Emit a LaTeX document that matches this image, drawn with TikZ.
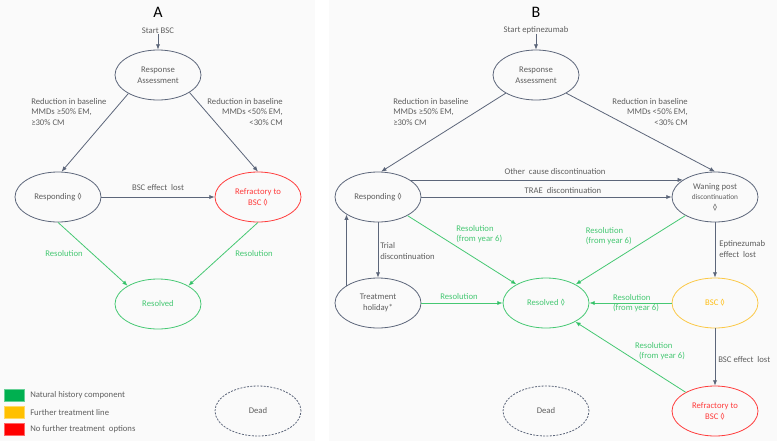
\documentclass[tikz,border=0pt]{standalone}
\usepackage{fontspec}
\setmainfont{Carlito}
\usepackage{tikz}
\usetikzlibrary{arrows.meta,positioning,shapes.geometric}
\definecolor{pizarra}{RGB}{92,102,122}
\definecolor{textogris}{RGB}{95,95,95}
\definecolor{verdeest}{RGB}{70,200,115}
\definecolor{rojoest}{RGB}{255,60,60}
\definecolor{naranjaest}{RGB}{250,200,70}
\definecolor{naranjatxt}{RGB}{255,190,20}
\definecolor{verdeley}{RGB}{0,176,80}
\definecolor{naranjaley}{RGB}{255,192,0}
\definecolor{rojoley}{RGB}{255,0,0}
\definecolor{fondo}{RGB}{250,250,250}

\begin{document}
\begin{tikzpicture}[
  x=0.75pt,y=-0.75pt,
  estado/.style={ellipse,draw=pizarra,line width=0.6pt,minimum width=64.5pt,
              minimum height=37.5pt,inner sep=0pt,align=center,
              font=\fontsize{6.5}{7.9}\selectfont,text=textogris},
  resuelto/.style={estado,draw=verdeest,text=verdeest},
  refract/.style={estado,draw=rojoest,text=rojoest},
  mejor/.style={estado,draw=naranjaest,text=naranjatxt},
  muerto/.style={estado,dash pattern=on 1.5pt off 1pt},
  lbl/.style={font=\fontsize{6.5}{7.9}\selectfont,text=textogris,inner sep=0pt,align=left},
  lblv/.style={lbl,text=verdeest},
  titulo/.style={font=\fontsize{12}{14}\selectfont,inner sep=0pt},
  ley/.style={minimum width=15pt,minimum height=9pt,inner sep=0pt},
  ar/.style={-{Latex[length=4pt,width=3.2pt]},draw=pizarra,line width=0.6pt},
  arv/.style={ar,draw=verdeest,-{Latex[length=4pt,width=3.2pt,fill=verdeley]}}
]
\useasboundingbox (0,0) rectangle (777,443);
\fill[fondo] (0,0) rectangle (315,441);
\fill[fondo] (329,0) rectangle (777,441);

% panel A
\node[titulo] (tA) at (158,12) {A};
\node[lbl] (iniA) at (158,31) {Start BSC};
\node[estado] (evalA) at (158,75) {Response\\Assessment};
\node[estado] (respA) at (58,197) {Responding ◊};
\node[refract] (refrA) at (258,197) {Refractory to\\BSC ◊};
\node[resuelto] (resA) at (158,304) {Resolved};
\node[muerto] (deadA) at (258,411) {Dead};

\node[lbl,anchor=north west] (redA1) at (31,98) {Reduction in baseline\\MMDs ≥50\% EM,\\≥30\% CM};
\node[lbl,anchor=north east,align=right] (redA2) at (283,98) {Reduction in baseline\\MMDs <50\% EM,\\<30\% CM};
\node[lbl] (lostA) at (158,188) {BSC effect\ \ lost};
\node[lblv] (solA1) at (64,254) {Resolution};
\node[lblv] (solA2) at (254,254) {Resolution};

\draw[ar] (iniA) -- (evalA);
\draw[ar] (evalA.212) -- (respA.82);
\draw[ar] (evalA.-29) -- (refrA.north);
\draw[ar] (respA) -- (refrA);
\draw[arv] (respA.south) -- (resA.149);
\draw[arv] (refrA.south) -- (resA.31);

% legend
\node[ley,fill=verdeley,draw=verdeley!60] (kv) at (14,395) {};
\node[ley,fill=naranjaley,draw=naranjaley!60,below=3.5pt of kv] (kn) {};
\node[ley,fill=rojoley,draw=rojoley!60,below=3.5pt of kn] (kr) {};
\node[lbl,anchor=west] (tkv) at (30,395) {Natural history component};
\node[lbl,anchor=west] (tkn) at (kn.east -| tkv.west) {Further treatment line};
\node[lbl,anchor=west] (tkr) at (kr.east -| tkv.west) {No further treatment\ \ options};

% panel B
\node[titulo] (tB) at (536,12) {B};
\node[lbl] (iniB) at (536,30) {Start eptinezumab};
\node[estado] (evalB) at (536,75) {Response\\Assessment};
\node[estado] (respB) at (378,197) {Responding ◊};
\node[estado] (wan) at (715,197) {Waning post\\{\fontsize{5.5}{7.5}\selectfont discontinuation}\\◊};
\node[estado] (hol) at (378,303) {Treatment\\holiday*};
\node[resuelto] (resB) at (546,303) {Resolved ◊};
\node[mejor] (bsc) at (715,303) {BSC ◊};
\node[refract] (refrB) at (715,411) {Refractory to\\BSC ◊};
\node[muerto] (deadB) at (546,411) {Dead};

\node[lbl,anchor=north west] (redB1) at (393,98) {Reduction in baseline\\MMDs ≥50\% EM,\\≥30\% CM};
\node[lbl,anchor=north east,align=right] (redB2) at (688,98) {Reduction in baseline\\MMDs <50\% EM,\\<30\% CM};
\node[lbl] (otra) at (555,172) {Other\ \ cause discontinuation};
\node[lbl] (trae) at (563,191) {TRAE\ \ discontinuation};
\node[lbl,anchor=west] (trial) at (380,251) {Trial\\discontinuation};
\node[lbl,anchor=west] (eptl) at (719,249) {Eptinezumab\\effect\ \ lost};
\node[lbl,anchor=west] (bscl) at (718,360) {BSC effect\ \ lost};
\node[lblv,anchor=west] (solB1) at (456,234) {Resolution\\(from year 6)};
\node[lblv,anchor=east] (solB2) at (632,236) {Resolution\\(from year 6)};
\node[lblv] (solB3) at (459,297) {Resolution};
\node[lblv] (solB4) at (636,303) {Resolution\\(from year 6)};
\node[lblv] (solB5) at (660,351) {Resolution\\\ \ (from year 6)};

\draw[ar] (iniB) -- (evalB);
\draw[ar] (evalB.211) -- (respB.83);
\draw[ar] (evalB.-31) -- (wan.north);
\draw[ar] (respB.28) -- (wan.152);
\draw[ar] (respB) -- (wan);
\draw[ar] (respB) -- (hol);
\draw[ar] (hol.151) -- (respB.209);
\draw[ar] (wan) -- (bsc);
\draw[ar] (bsc) -- (refrB);
\draw[arv] (respB) -- (resB);
\draw[arv] (wan) -- (resB);
\draw[arv] (hol) -- (resB);
\draw[arv] (bsc) -- (resB);
\draw[arv] (refrB) -- (resB);
\end{tikzpicture}
\end{document}
